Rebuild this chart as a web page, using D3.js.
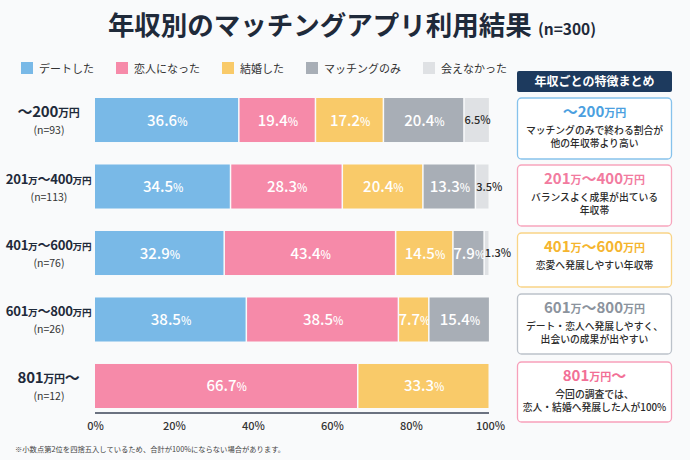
<!DOCTYPE html>
<html><head><meta charset="utf-8">
<script src="https://cdn.jsdelivr.net/npm/d3@7"></script>
<style>
html,body{margin:0;padding:0;background:#f9fafb;}
svg{display:block;font-family:"Noto Sans CJK JP","Noto Sans",sans-serif;}
</style></head>
<body><svg id="c" width="690" height="460"></svg>
<script>
const categories = ["〜200万円","201万〜400万円","401万〜600万円","601万〜800万円","801万円〜"];
const sampleSizes = [93,113,76,26,12];
const seriesNames = ["デートした","恋人になった","結婚した","マッチングのみ","会えなかった"];
const dated   = [36.6,34.5,32.9,38.5,0];
const lover   = [19.4,28.3,43.4,38.5,66.7];
const married = [17.2,20.4,14.5,7.7,33.3];
const matchOnly = [20.4,13.3,7.9,15.4,0];
const notMet  = [6.5,3.5,1.3,0,0];
const ticks = [0,20,40,60,80,100];
const title = "年収別のマッチングアプリ利用結果";
const titleN = "(n=300)";
const panelTitle = "年収ごとの特徴まとめ";
const cardTitles = ["〜200万円","201万〜400万円","401万〜600万円","601万〜800万円","801万円〜"];
const cardBodies = [
  ["マッチングのみで終わる割合が","他の年収帯より高い"],
  ["バランスよく成果が出ている","年収帯"],
  ["恋愛へ発展しやすい年収帯"],
  ["デート・恋人へ発展しやすく、","出会いの成果が出やすい"],
  ["今回の調査では、","恋人・結婚へ発展した人が100%"]
];
const footnote = "※小数点第2位を四捨五入しているため、合計が100%にならない場合があります。";

const colors = ["#79b9e7","#f68aa9","#f9ca69","#a8aeb6","#dfe1e4"];
const cardStroke = ["#86c2ec","#f7a5bd","#f9d486","#bcc2ca","#f7a0ba"];
const cardTitleColor = ["#4b9fe0","#f27b9f","#f5b52e","#8b939d","#f26f96"];

const svg = d3.select("#c");
const ink = "#1f2a3a";

// title
const t = svg.append("text").attr("x",352).attr("y",35).attr("text-anchor","middle")
  .attr("fill",ink).attr("font-weight",700);
t.append("tspan").attr("font-size",26.5).text(title);
t.append("tspan").attr("font-size",15.5).attr("font-weight",600).attr("dx",6).text(titleN);

// legend
const series = [dated,lover,married,matchOnly,notMet];
let lx = 21;
seriesNames.forEach((n,i)=>{
  svg.append("rect").attr("x",lx).attr("y",62).attr("width",12).attr("height",12).attr("fill",colors[i]);
  const tx = svg.append("text").attr("x",lx+18).attr("y",72.5).attr("font-size",11).attr("fill","#333").text(n);
  lx += 18 + tx.node().getComputedTextLength() + 22;
});

// scales
const x = d3.scaleLinear().domain([0,100]).range([95,490]);
const y = d3.scaleBand().domain(categories).range([98,408]).paddingInner(0.338).paddingOuter(0);

// stacked data
const rows = categories.map((c,i)=>{
  const o = {cat:c}; seriesNames.forEach((s,j)=>o[s]=series[j][i]); return o;
});
const stack = d3.stack().keys(seriesNames)(rows);

const g = svg.append("g");
stack.forEach((layer,j)=>{
  layer.forEach((d,i)=>{
    const v = d[1]-d[0];
    if (v<=0) return;
    const x0 = x(d[0]), w = x(d[1])-x(d[0]);
    g.append("rect").attr("x",x0).attr("y",y(categories[i])).attr("width",Math.max(0,w-1.5))
      .attr("height",y.bandwidth()).attr("fill",colors[j]);
    const cy = y(categories[i])+y.bandwidth()/2;
    if (v >= 7) {
      const tt = g.append("text").attr("x",x0+w/2).attr("y",cy+5.5).attr("text-anchor","middle")
        .attr("fill","#fff").attr("font-weight",500);
      tt.append("tspan").attr("font-size",15).text(v.toFixed(1));
      tt.append("tspan").attr("font-size",11).text("%");
    } else {
      const small = v < 5;
      g.append("text").attr("x",small? x0 : x0+w/2).attr("y",cy+4)
        .attr("text-anchor",small?"start":"middle").attr("fill","#2b2b2b")
        .attr("font-size",11).attr("font-weight",500).text(v.toFixed(1)+"%");
    }
  });
});

// row labels
function bigSmall(sel, str, big, small){
  const parts = str.match(/万円|万|円|[^万円]+/g);
  parts.forEach(p=>{
    sel.append("tspan").attr("font-size", /万|円/.test(p)? small : big).text(p);
  });
}
categories.forEach((c,i)=>{
  const cy = y(c)+y.bandwidth()/2;
  const tl = svg.append("text").attr("x",48.5).attr("y",cy-3).attr("text-anchor","middle")
    .attr("fill",ink).attr("font-weight",700).attr("letter-spacing",-0.3);
  bigSmall(tl,c,15,11);
  const wdt = tl.node().getComputedTextLength();
  const maxW = 86;
  if (wdt > maxW) {
    const k = maxW / wdt;
    tl.selectAll("tspan").each(function(){
      const s = d3.select(this); s.attr("font-size", (+s.attr("font-size"))*k);
    });
  }
  svg.append("text").attr("x",49).attr("y",cy+14).attr("text-anchor","middle")
    .attr("fill","#333").attr("font-size",10.5).text("(n="+sampleSizes[i]+")");
});

// axis
svg.append("line").attr("x1",95).attr("x2",489).attr("y1",413).attr("y2",413)
  .attr("stroke","#6b7280").attr("stroke-width",2);
const ax = svg.append("g").attr("transform","translate(0,414)")
  .call(d3.axisBottom(x).tickValues(ticks).tickFormat(d=>d+"%").tickSize(0).tickPadding(8));
ax.select(".domain").remove();
ax.selectAll("text").attr("font-size",11).attr("font-weight",500).attr("fill","#333")
  .attr("font-family",'"Noto Sans CJK JP","Noto Sans",sans-serif');

// footnote
svg.append("text").attr("x",15).attr("y",452).attr("font-size",7.3).attr("fill","#444").text(footnote);

// right panel
svg.append("rect").attr("x",517).attr("y",71).attr("width",155).attr("height",21).attr("rx",2)
  .attr("fill","#1d3a5e");
svg.append("text").attr("x",594.5).attr("y",86).attr("text-anchor","middle").attr("fill","#fff")
  .attr("font-size",12).attr("font-weight",700).text(panelTitle);

const cardTops = [98,165,233,294,362];
const cardHeights = [61,61,54,60,60];
cardTitles.forEach((c,i)=>{
  const top = cardTops[i];
  svg.append("rect").attr("x",517.5).attr("y",top).attr("width",154).attr("height",cardHeights[i])
    .attr("rx",4).attr("fill","#fff").attr("stroke",cardStroke[i]).attr("stroke-width",1.3);
  const tt = svg.append("text").attr("x",594.5).attr("y",top+19).attr("text-anchor","middle")
    .attr("fill",cardTitleColor[i]).attr("font-weight",700);
  bigSmall(tt,c,15,11);
  cardBodies[i].forEach((line,k)=>{
    svg.append("text").attr("x",594.5).attr("y",top+36+k*13).attr("text-anchor","middle")
      .attr("fill","#2b2b2b").attr("font-size",9.8).attr("font-weight",500).text(line);
  });
});
</script></body></html>
